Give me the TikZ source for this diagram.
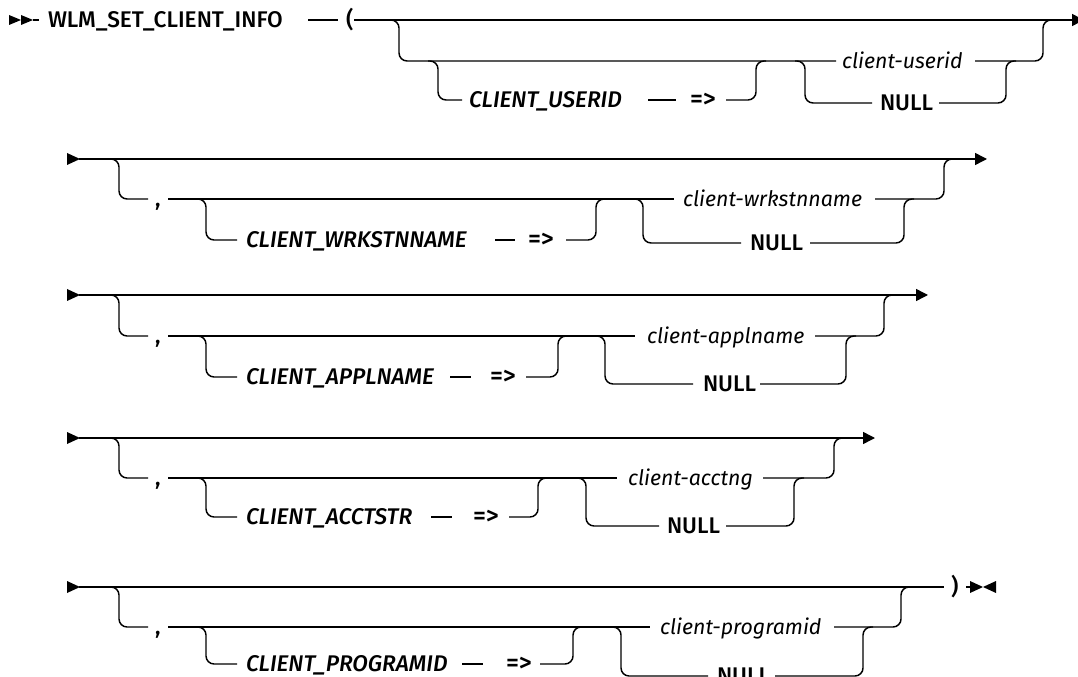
\documentclass[tikz,border=0pt]{standalone}
\usepackage{fontspec}
\setmainfont{Fira Sans}
\newfontfamily\kwfont{Fira Sans Medium}
\usetikzlibrary{arrows.meta}
\newcommand\synslot[7]{%
  \pgfmathsetmacro\slw{(#3-#2)*0.75}%
  \pgfmathsetmacro\sli{(#4-#2)*0.75}%
  \node[#6] (#1) at (#2,#5) {\makebox[\slw pt][l]{\hspace*{\sli pt}#7}};%
}
\begin{document}
\begin{tikzpicture}[x=0.75pt,y=-0.75pt,line width=1.1pt,
  slot/.style={anchor=west,inner sep=0pt,outer sep=0pt,text depth=0pt},
  kw/.style={slot,text height=11.7pt,font=\kwfont\fontsize{17}{20}\selectfont},
  eqs/.style={slot,text height=11.7pt,font=\kwfont\fontsize{19}{22}\selectfont},
  kwi/.style={slot,text height=11.7pt,font=\kwfont\itshape\fontsize{17}{20}\selectfont},
  var/.style={slot,text height=11pt,font=\itshape\fontsize{16}{19}\selectfont},
  rc/.style={rounded corners=6pt},
  contarr/.style={-{Triangle[length=9pt,width=9pt]}},
  rtri/.pic={\fill (0,-6) -- (13,0) -- (0,6) -- cycle;},
  ltri/.pic={\fill (13,-6) -- (0,0) -- (13,6) -- cycle;},
  stri/.pic={\fill (0,-5) -- (12,0) -- (0,5) -- cycle;}]
\useasboundingbox (0,0) rectangle (1078,677);

% ---------------- Row 1 ----------------
\def\ya{20}\def\yb{61}\def\yc{100}\def\yn{103}
\pic at (9,\ya) {stri};
\pic at (21,\ya) {stri};
\coordinate (s1) at (33,\ya);
\synslot{wlm}{39}{308}{48}{\ya}{kw}{WLM\_SET\_CLIENT\_INFO}
\synslot{lp}{338}{354}{346}{\ya}{kw}{(}
\synslot{cuid}{462}{648}{469}{\yc}{kwi}{CLIENT\_USERID}
\synslot{eq1}{676}{726}{690}{\yc}{eqs}{=>}
\synslot{vuid}{836}{975}{842}{\yb}{var}{client-userid}
\synslot{nul1}{872}{939}{880}{\yn}{kw}{NULL}
\coordinate (e1) at (1084,\ya);
\coordinate (b11) at (389,\ya);
\coordinate (b12) at (428,\yb);
\coordinate (r12) at (756,\yb);
\coordinate (b13) at (795,\yb);
\coordinate (r13) at (1006,\yb);
\coordinate (r11) at (1043,\ya);
\draw (s1) -- (wlm.west);
\draw (wlm.east) -- (lp.west);
\draw[contarr] (lp.east) -- (e1);
\draw[rc] (b11) -- ++(10,0) |- (vuid.west);
\draw[rc] (b12) -- ++(10,0) |- (cuid.west);
\draw (cuid.east) -- (eq1.west);
\draw[rc] (eq1.east) -| (r12) -- ++(10,0);
\draw[rc] (b13) -- ++(10,0) |- (nul1.west);
\draw[rc] (nul1.east) -| (r13) -- ++(10,0);
\draw[rc] (vuid.east) -| (r11) -- ++(10,0);

% ---------------- Row 2 ----------------
\def\ya{159}\def\yb{199}\def\yc{240}\def\yn{243}
\pic at (67,\ya) {rtri};
\coordinate (s2) at (79,\ya);
\coordinate (e2) at (987,\ya);
\synslot{cm2}{148}{168}{155}{\yb}{kw}{,}
\synslot{cw2}{237}{495}{246}{\yc}{kwi}{CLIENT\_WRKSTNNAME}
\synslot{eq2}{515}{566}{528}{\yc}{eqs}{=>}
\synslot{vw2}{674}{875}{683}{\yb}{var}{client-wrkstnname}
\synslot{nul2}{741}{810}{750}{\yn}{kw}{NULL}
\coordinate (b21) at (109,\ya);
\coordinate (b22) at (196,\yb);
\coordinate (r22) at (596,\yb);
\coordinate (b23) at (633,\yb);
\coordinate (r23) at (904,\yb);
\coordinate (r21) at (944,\ya);
\draw[contarr] (s2) -- (e2);
\draw[rc] (b21) -- ++(10,0) |- (cm2.west);
\draw (cm2.east) -- (vw2.west);
\draw[rc] (b22) -- ++(10,0) |- (cw2.west);
\draw (cw2.east) -- (eq2.west);
\draw[rc] (eq2.east) -| (r22) -- ++(10,0);
\draw[rc] (b23) -- ++(10,0) |- (nul2.west);
\draw[rc] (nul2.east) -| (r23) -- ++(10,0);
\draw[rc] (vw2.east) -| (r21) -- ++(10,0);

% ---------------- Row 3 ----------------
\def\ya{295}\def\yb{336}\def\yc{377}\def\yn{384}
\pic at (67,\ya) {rtri};
\coordinate (s3) at (79,\ya);
\coordinate (e3) at (928,\ya);
\synslot{cm3}{148}{168}{155}{\yb}{kw}{,}
\synslot{ca3}{237}{450}{246}{\yc}{kwi}{CLIENT\_APPLNAME}
\synslot{eq3}{471}{526}{490}{\yc}{eqs}{=>}
\synslot{va3}{635}{815}{647}{\yb}{var}{client-applname}
\synslot{nul3}{693}{760}{703}{\yn}{kw}{NULL}
\coordinate (b31) at (109,\ya);
\coordinate (b32) at (196,\yb);
\coordinate (r32) at (558,\yb);
\coordinate (b33) at (595,\yb);
\coordinate (r33) at (846,\yb);
\coordinate (r31) at (884,\ya);
\draw[contarr] (s3) -- (e3);
\draw[rc] (b31) -- ++(10,0) |- (cm3.west);
\draw (cm3.east) -- (va3.west);
\draw[rc] (b32) -- ++(10,0) |- (ca3.west);
\draw (ca3.east) -- (eq3.west);
\draw[rc] (eq3.east) -| (r32) -- ++(10,0);
\draw[rc] (b33) -- ++(10,0) |- (nul3.west);
\draw[rc] (nul3.east) -| (r33) -- ++(10,0);
\draw[rc] (va3.east) -| (r31) -- ++(10,0);

% ---------------- Row 4 ----------------
\def\ya{438}\def\yb{478}\def\yc{517}\def\yn{526}
\pic at (67,\ya) {rtri};
\coordinate (s4) at (79,\ya);
\coordinate (e4) at (875,\ya);
\synslot{cm4}{148}{168}{155}{\yb}{kw}{,}
\synslot{cs4}{237}{431}{246}{\yc}{kwi}{CLIENT\_ACCTSTR}
\synslot{eq4}{452}{509}{473}{\yc}{eqs}{=>}
\synslot{vc4}{617}{763}{628}{\yb}{var}{client-acctng}
\synslot{nul4}{659}{726}{667}{\yn}{kw}{NULL}
\coordinate (b41) at (109,\ya);
\coordinate (b42) at (196,\yb);
\coordinate (r42) at (538,\yb);
\coordinate (b43) at (576,\yb);
\coordinate (r43) at (794,\yb);
\coordinate (r41) at (834,\ya);
\draw[contarr] (s4) -- (e4);
\draw[rc] (b41) -- ++(10,0) |- (cm4.west);
\draw (cm4.east) -- (vc4.west);
\draw[rc] (b42) -- ++(10,0) |- (cs4.west);
\draw (cs4.east) -- (eq4.west);
\draw[rc] (eq4.east) -| (r42) -- ++(10,0);
\draw[rc] (b43) -- ++(10,0) |- (nul4.west);
\draw[rc] (nul4.east) -| (r43) -- ++(10,0);
\draw[rc] (vc4.east) -| (r41) -- ++(10,0);

% ---------------- Row 5 ----------------
\def\ya{587}\def\yb{627}\def\yc{664}\def\yn{676}
\pic at (67,\ya) {rtri};
\coordinate (s5) at (79,\ya);
\synslot{cm5}{148}{168}{155}{\yb}{kw}{,}
\synslot{cp5}{237}{462}{246}{\yc}{kwi}{CLIENT\_PROGRAMID}
\synslot{eq5}{483}{540}{506}{\yc}{eqs}{=>}
\synslot{vp5}{650}{834}{660}{\yb}{var}{client-programid}
\synslot{nul5}{708}{775}{717}{\yn}{kw}{NULL}
\synslot{rp}{944}{966}{951}{\ya}{kw}{)}
\coordinate (ee) at (970,\ya);
\coordinate (b51) at (109,\ya);
\coordinate (b52) at (196,\yb);
\coordinate (r52) at (573,\yb);
\coordinate (b53) at (611,\yb);
\coordinate (r53) at (863,\yb);
\coordinate (r51) at (901,\ya);
\draw (s5) -- (rp.west);
\draw (rp.east) -- (ee);
\pic at (970,\ya) {rtri};
\pic at (983,\ya) {ltri};
\draw[rc] (b51) -- ++(10,0) |- (cm5.west);
\draw (cm5.east) -- (vp5.west);
\draw[rc] (b52) -- ++(10,0) |- (cp5.west);
\draw (cp5.east) -- (eq5.west);
\draw[rc] (eq5.east) -| (r52) -- ++(10,0);
\draw[rc] (b53) -- ++(10,0) |- (nul5.west);
\draw[rc] (nul5.east) -| (r53) -- ++(10,0);
\draw[rc] (vp5.east) -| (r51) -- ++(10,0);
\end{tikzpicture}
\end{document}
